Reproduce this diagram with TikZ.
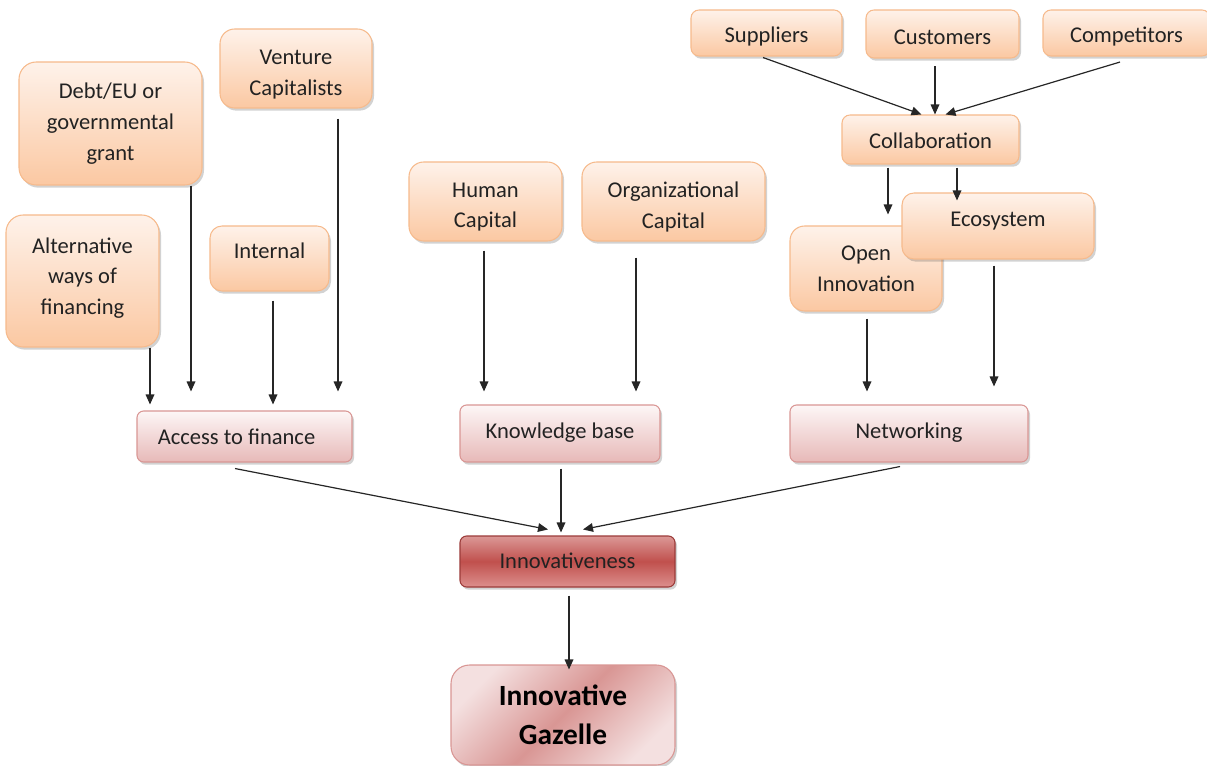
\documentclass[tikz,border=0pt]{standalone}
\usepackage{fontspec}
\setmainfont{Carlito}
\usetikzlibrary{shadows,calc,arrows.meta}
\definecolor{oline}{HTML}{F6BA8C}
\definecolor{otop}{HTML}{FEF2EA}
\definecolor{obot}{HTML}{FBC8A2}
\definecolor{pline}{HTML}{D99694}
\definecolor{ptop}{HTML}{FDF6F6}
\definecolor{pbot}{HTML}{E7B9B8}
\definecolor{itop}{HTML}{DB9896}
\definecolor{imid}{HTML}{C0504D}
\definecolor{ibot}{HTML}{DC8F8D}
\definecolor{iline}{HTML}{9B3B39}
\definecolor{glight}{HTML}{F4E0E0}
\definecolor{gdark}{HTML}{D99694}
\definecolor{txtc}{HTML}{222222}
\begin{document}
\begin{tikzpicture}[x=0.75pt,y=-0.75pt,
  sz/.style 2 args={minimum width=#1*0.75pt, minimum height=#2*0.75pt},
  txt/.style={inner sep=0pt, align=center, text=txtc, font=\fontsize{16.9}{23}\selectfont},
  base/.style={rectangle, inner sep=0pt, line width=0.8pt,
    drop shadow={shadow xshift=1.5pt, shadow yshift=-2pt, opacity=0.25, fill=black!70}},
  obox/.style={base, draw=oline, top color=otop, bottom color=obot, rounded corners=#1},
  obox/.default=6pt,
  pbox/.style={base, draw=pline, top color=ptop, bottom color=pbot, rounded corners=5pt},
  ibox/.style={base, draw=iline, top color=itop, bottom color=ibot, middle color=imid, rounded corners=5pt},
  gbox/.style={base, draw=pline, top color=glight, bottom color=glight, middle color=gdark,
    shading angle=45, rounded corners=14pt},
  gtxt/.style={inner sep=0pt, align=center, text=black, font=\fontsize{22}{29}\selectfont\bfseries},
  arr/.style={-{Triangle[length=7.5pt,width=6.5pt]}, line width=0.9pt, black!85}
]
\useasboundingbox (0,0) rectangle (1207,766);
\clip (0,0) rectangle (1207,766);

% top-left boxes
\node[obox=13pt, sz={183}{123}, label={[txt]center:{Debt/EU or\\governmental\\grant}}] (debt) at (110.5,123.5) {};
\node[obox=11pt, sz={152}{79}, label={[txt,yshift=-4.8pt]center:{Venture\\Capitalists}}] (vc) at (296,68.5) {};
\node[obox=13pt, sz={153}{132}, label={[txt,yshift=2.3pt]center:{Alternative\\ways of\\financing}}] (alt) at (82.5,281) {};
\node[obox=9pt, sz={119}{65}, label={[txt,yshift=5.6pt]center:Internal}] (int) at (269.5,258.5) {};

% middle boxes
\node[obox=11pt, sz={153}{79}, label={[txt,yshift=-4.1pt]center:{Human\\Capital}}] (hum) at (485.5,201.5) {};
\node[obox=11pt, sz={183}{79}, label={[txt,yshift=-4.1pt]center:{Organizational\\Capital}}] (org) at (673.5,201.5) {};

% top-right boxes
\node[obox, sz={151}{46}, label={[txt,yshift=-2.3pt]center:Suppliers}] (sup) at (766.5,33) {};
\node[obox, sz={153}{48}, label={[txt,yshift=-2.3pt]center:Customers}] (cus) at (942.5,34) {};
\node[obox, sz={167}{46}, label={[txt,yshift=-3pt]center:Competitors}] (com) at (1126.5,33) {};
\node[obox, sz={177}{49}, label={[txt,yshift=-1.1pt]center:Collaboration}] (col) at (930.5,139.5) {};
\node[obox=11pt, sz={152}{85}, label={[txt]center:{Open\\Innovation}}] (open) at (866,268.5) {};
\node[obox=9pt, sz={192}{66}, label={[txt,yshift=3.8pt]center:Ecosystem}] (eco) at (998,226) {};

% pink row
\node[pbox, sz={215}{51}, label={[txt,xshift=-6pt]center:Access to finance}] (acc) at (244.5,436.5) {};
\node[pbox, sz={200}{57}, label={[txt,yshift=0.8pt]center:Knowledge base}] (kb) at (560,433.5) {};
\node[pbox, sz={238}{57}, label={[txt,yshift=0.8pt]center:Networking}] (net) at (909,433.5) {};

% bottom
\node[ibox, sz={215}{51}, label={[txt,yshift=0.5pt]center:Innovativeness}] (inn) at (567.5,561.5) {};
\node[gbox, sz={224}{100}, label={[gtxt]center:{Innovative\\Gazelle}}] (gaz) at (563,715) {};

% connectors
\draw[arr] ($(alt.south)+(67.5,0)$) -- ($(acc.north)+(-94.5,-6)$);
\draw[arr] ($(debt.south)+(80.5,0)$) -- ($(acc.north)+(-53.5,-19)$);
\draw[arr] ($(int.south)+(3.5,9)$) -- ($(acc.north)+(28.5,-6)$);
\draw[arr] ($(vc.south)+(42,10)$) -- ($(acc.north)+(93.5,-19)$);

\draw[arr] ($(hum.south)+(-1.5,9)$) -- ($(kb.north)+(-76,-13)$);
\draw[arr] ($(org.south)+(-37.5,16)$) -- ($(kb.north)+(76,-13)$);

\draw[arr] ($(open.south)+(1,7)$) -- ($(net.north)+(-42,-13)$);
\draw[arr] ($(eco.south)+(-4,6)$) -- ($(net.north)+(85,-18)$);

\draw[arr] ($(col.south)+(-42.5,3)$) -- ($(open.north)+(22,-11)$);
\draw[arr] ($(col.south)+(26.5,3)$) -- ($(eco.north)+(-41,8)$);

\draw[arr] ($(sup.south)+(-3.5,1)$) -- ($(col.north)+(-9,0)$);
\draw[arr] ($(cus.south)+(-7.5,7.5)$) -- ($(col.north)+(4.5,0)$);
\draw[arr] ($(com.south)+(-6.5,5.5)$) -- ($(col.north)+(15,0)$);

\draw[arr] ($(acc.south)+(-9.5,6)$) -- ($(inn.north)+(-19.5,-6)$);
\draw[arr] ($(kb.south)+(1,6)$) -- ($(inn.north)+(-6.5,-3)$);
\draw[arr] ($(net.south)+(-9,4)$) -- ($(inn.north)+(15.5,-6)$);

\draw[arr] ($(inn.south)+(1.5,8)$) -- ($(gaz.north)+(6,5)$);
\end{tikzpicture}
\end{document}
